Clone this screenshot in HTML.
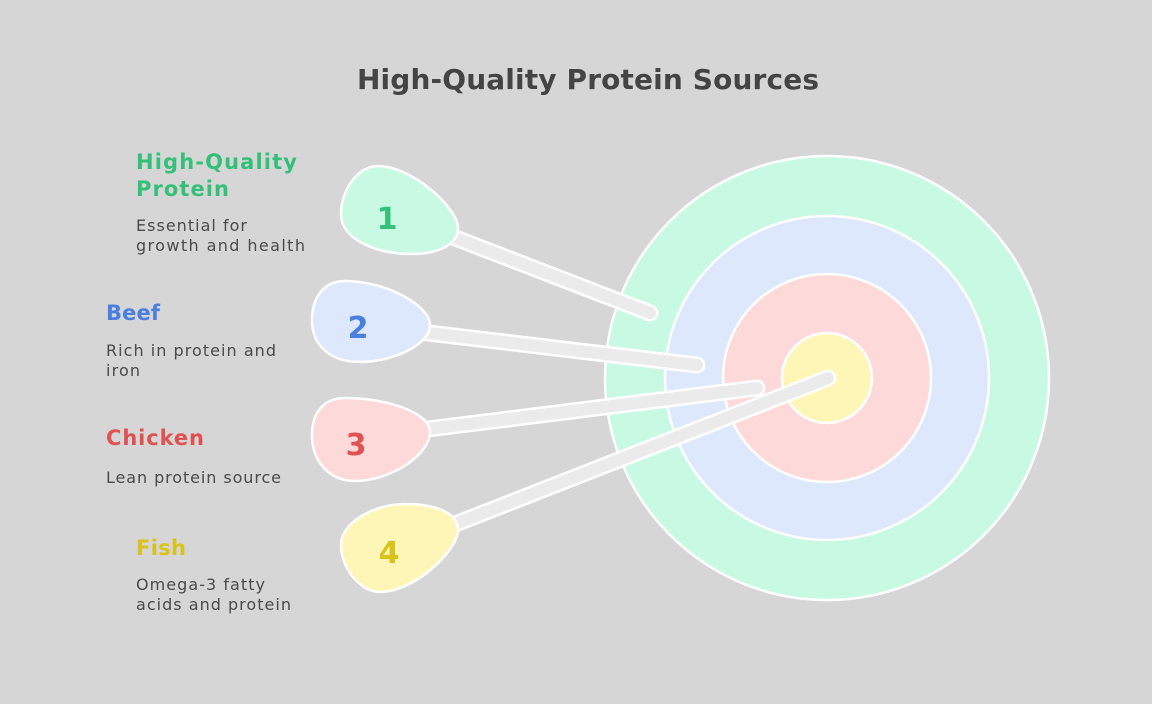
<!DOCTYPE html>
<html><head><style>
body{margin:0;background:#d6d6d6;width:1152px;height:704px;overflow:hidden;}
</style></head><body>
<svg width="1152" height="704" xmlns="http://www.w3.org/2000/svg" style="position:absolute;left:0;top:0">
<rect width="1152" height="704" fill="#d6d6d6"/>
<text x="588" y="89" text-anchor="middle" font-family="DejaVu Sans, sans-serif" font-weight="bold" font-size="28" fill="#444" textLength="462">High-Quality Protein Sources</text>
<g stroke="#fff" stroke-width="2.5">
<circle cx="827" cy="378" r="222" fill="#c8fae3"/>
<circle cx="827" cy="378" r="162" fill="#dde8fd"/>
<circle cx="827" cy="378" r="104" fill="#fdd9d9"/>
<circle cx="827" cy="378" r="45" fill="#fdf6b7"/>
</g>
<g stroke-linecap="round">
<g stroke="#fff" stroke-width="17">
<line x1="440" y1="232" x2="650" y2="313"/>
<line x1="420" y1="332" x2="697" y2="365"/>
<line x1="420" y1="430" x2="757" y2="388"/>
<line x1="440" y1="530" x2="828" y2="378"/>
</g>
<g stroke="#ebebeb" stroke-width="12">
<line x1="440" y1="232" x2="650" y2="313"/>
<line x1="420" y1="332" x2="697" y2="365"/>
<line x1="420" y1="430" x2="757" y2="388"/>
<line x1="440" y1="530" x2="828" y2="378"/>
</g>
</g>
<g stroke="#fff" stroke-width="2.5">
<path d="M378,166 C358,166 341,190 341,214 C341,240 378,254 410,254 C440,254 458,244 458,228 C458,208 412,166 378,166Z" fill="#c8fae3"/>
<path d="M345,281 C322,281 312,300 312,320 C312,345 330,362 360,362 C392,362 430,345 430,325 C430,305 385,281 345,281Z" fill="#dde8fd"/>
<path d="M345,398 C322,398 312,415 312,435 C312,462 330,481 355,481 C390,481 430,455 430,432 C430,412 385,398 345,398Z" fill="#fdd9d9"/>
<path d="M405,504 C440,504 458,515 458,530 C458,550 415,592 380,592 C360,592 341,568 341,545 C341,522 375,504 405,504Z" fill="#fdf6b7"/>
</g>
<g font-family="DejaVu Sans, sans-serif" font-weight="bold" font-size="30" text-anchor="middle">
<text x="387" y="229" fill="#35c07a">1</text>
<text x="358" y="338" fill="#4a7fe0">2</text>
<text x="356" y="455" fill="#e05252">3</text>
<text x="389" y="563" fill="#d9c21a">4</text>
</g>
<g font-family="DejaVu Sans, sans-serif" font-weight="bold" font-size="21">
<text x="136" y="169" fill="#35c07a" textLength="161">High-Quality</text>
<text x="136" y="196" fill="#35c07a" textLength="93">Protein</text>
<text x="106" y="320" fill="#4a7fe0" textLength="54">Beef</text>
<text x="106" y="445" fill="#e05252" textLength="98">Chicken</text>
<text x="136" y="555" fill="#d9c21a" textLength="50">Fish</text>
</g>
<g font-family="DejaVu Sans, sans-serif" font-size="16" fill="#4a4a4a">
<text x="136" y="231" textLength="111">Essential for</text>
<text x="136" y="251" textLength="169">growth and health</text>
<text x="106" y="356" textLength="170">Rich in protein and</text>
<text x="106" y="376" textLength="34">iron</text>
<text x="106" y="483" textLength="175">Lean protein source</text>
<text x="136" y="590" textLength="129">Omega-3 fatty</text>
<text x="136" y="610" textLength="155">acids and protein</text>
</g>
</svg>
</body></html>
